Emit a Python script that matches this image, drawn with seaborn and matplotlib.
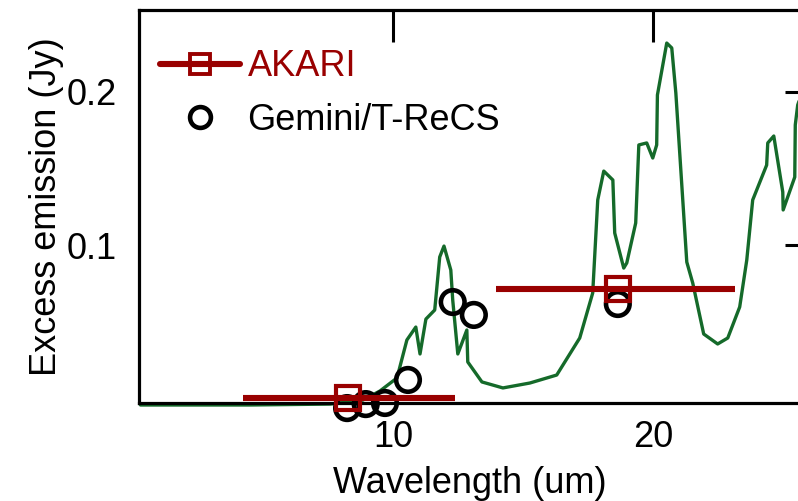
import matplotlib
matplotlib.use("Agg")
import matplotlib.pyplot as plt
from matplotlib.lines import Line2D
import numpy as np
import pandas as pd
import seaborn as sns

# Model excess spectrum (wavelength in um, flux in Jy)
spec_wave = [5.10, 6.83, 8.46, 9.23, 9.66, 10.11, 10.38, 10.63, 10.75, 10.92,
             11.18, 11.33, 11.46, 11.67, 11.73, 11.89, 12.18, 12.21, 12.68, 13.41,
             14.41, 15.48, 16.46, 17.04, 17.27, 17.55, 17.98, 18.07, 18.51, 18.66,
             19.11, 19.27, 19.68, 20.00, 20.21, 20.25, 20.76, 21.04, 21.27, 21.90,
             22.25, 22.91, 23.78, 24.43, 25.22, 25.70, 26.11, 27.10, 27.18, 27.62,
             28.29, 28.32, 29.21, 29.25, 29.44, 30.41]
spec_flux = [-0.0039, -0.0039, -0.0033, -0.0007, 0.0052, 0.0137, 0.0384, 0.0468, 0.0293, 0.0520,
             0.0579, 0.0924, 0.0995, 0.0839, 0.0644, 0.0293, 0.0449, 0.0241, 0.0111, 0.0072,
             0.0104, 0.0156, 0.0397, 0.0690, 0.1295, 0.1483, 0.1425, 0.1080, 0.0852, 0.0885,
             0.1145, 0.1653, 0.1666, 0.1568, 0.1653, 0.1978, 0.2316, 0.2284, 0.1991, 0.0891,
             0.0755, 0.0423, 0.0358, 0.0397, 0.0599, 0.0904, 0.1295, 0.1522, 0.1666, 0.1711,
             0.1347, 0.1230, 0.1444, 0.1783, 0.1913, 0.2141]

# Gemini/T-ReCS photometry
trecs_wave = [8.85, 9.30, 9.79, 10.41, 11.73, 12.41, 18.22]
trecs_flux = [-0.0059, -0.0033, -0.0026, 0.0124, 0.0631, 0.0547, 0.0618]

# AKARI photometry with band edges
akari_wave = [8.87, 18.22]
akari_flux = [0.0007, 0.0716]
akari_lo = [6.70, 13.16]
akari_hi = [11.80, 24.89]

labels = ["AKARI", "Gemini/T-ReCS"]

RED = "#990000"
GREEN = "#156a2a"

sns.set_theme(style="white")
plt.rcParams["font.family"] = ["Liberation Sans", "DejaVu Sans"]

fig = plt.figure(figsize=(7.98, 5.01), dpi=100)
W, H = 798, 501
ax = fig.add_axes([139 / W, (H - 403) / H, (801 - 139) / W, (403 - 10) / H])

spec = pd.DataFrame({"wave": spec_wave, "flux": spec_flux})
sns.lineplot(data=spec, x="wave", y="flux", ax=ax, color=GREEN, lw=2.4,
             sort=False, estimator=None, zorder=2)
for ln in ax.lines:
    ln.set_clip_on(False)
    ln.set_clip_path(None)

trecs = pd.DataFrame({"wave": trecs_wave, "flux": trecs_flux})
sns.scatterplot(data=trecs, x="wave", y="flux", ax=ax, marker="o", s=17 ** 2,
                facecolor="none", edgecolor="black", linewidth=3.3, zorder=3,
                clip_on=False)

xerr = np.array([np.array(akari_wave) - np.array(akari_lo),
                 np.array(akari_hi) - np.array(akari_wave)])
ax.errorbar(akari_wave, akari_flux, xerr=xerr, fmt="s", color=RED, ecolor=RED,
            elinewidth=4.4, capsize=0, ms=17.5, mfc="none", mec=RED, mew=3.0,
            zorder=4, clip_on=False)

ax.set_xscale("log")
ax.set_xlim(5.08, 29.7)
ax.set_ylim(-0.0026, 0.2531)
ax.set_xticks([10, 20])
ax.set_xticklabels(["10", "20"])
ax.xaxis.set_minor_locator(matplotlib.ticker.NullLocator())
ax.set_yticks([0.1, 0.2])
ax.set_yticklabels(["0.1", "0.2"])

ax.tick_params(axis="both", which="major", direction="in", top=True, right=True,
               labelsize=26, color="black", labelcolor="black", width=2.2)
ax.tick_params(axis="x", length=23, pad=12)
ax.tick_params(axis="y", length=11.5, pad=16)
for sp in ax.spines.values():
    sp.set_color("black")
    sp.set_linewidth(2.3)

ax.set_xlabel("Wavelength (um)", fontsize=26, color="black", labelpad=8)
ax.set_ylabel("Excess emission (Jy)", fontsize=26, color="black", labelpad=2)

handles = [
    Line2D([], [], color=RED, lw=4.4, marker="s", ms=14, mfc="none", mec=RED, mew=2.8),
    Line2D([], [], color="none", lw=0, marker="o", ms=15, mfc="none", mec="black", mew=3.3),
]
ax.legend(handles, labels, loc="upper left", bbox_to_anchor=(0.032, 0.90),
          borderaxespad=0, borderpad=0, handlelength=2.2, handletextpad=0.22,
          labelspacing=0.52, frameon=False, fontsize=26,
          labelcolor=[RED, "black"])

fig.savefig("out.png", dpi=100)
